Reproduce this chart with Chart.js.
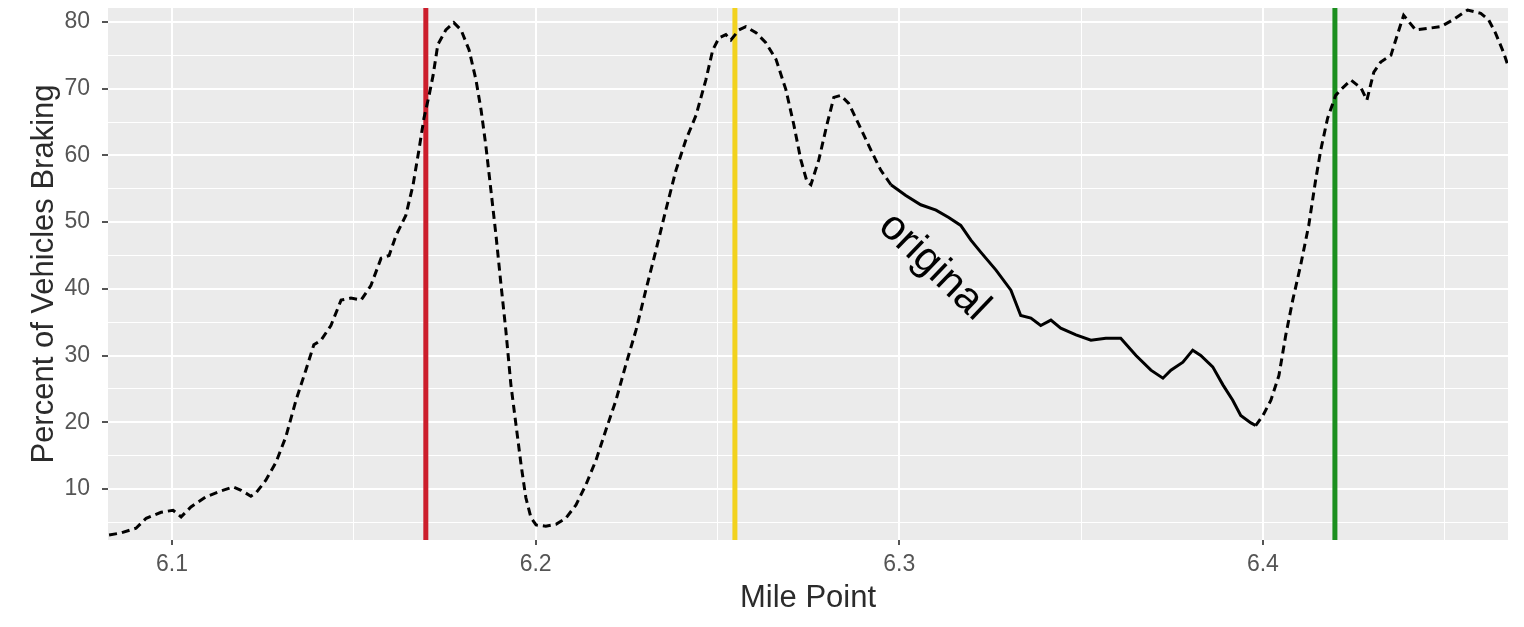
<!DOCTYPE html>
<html>
<head>
<meta charset="utf-8">
<script src="https://cdn.jsdelivr.net/npm/chart.js@4.4.0/dist/chart.umd.min.js"></script>
<style>
  html, body { margin: 0; padding: 0; background: #ffffff; }
  #wrap { width: 1524px; height: 627px; }
</style>
</head>
<body>
<div id="wrap"><canvas id="myChart" width="1524" height="627"></canvas></div>
<script>
// mile points and percent of vehicles braking
var milePoints = [
  6.0827, 6.0860, 6.0901, 6.0929, 6.0970, 6.1003, 6.1025, 6.1052, 6.1093, 6.1135,
  6.1168, 6.1190, 6.1217, 6.1231, 6.1258, 6.1286, 6.1313, 6.1341, 6.1368, 6.1390,
  6.1410, 6.1437, 6.1465, 6.1492, 6.1520, 6.1547, 6.1575, 6.1597, 6.1616, 6.1643,
  6.1663, 6.1679, 6.1693, 6.1707, 6.1718, 6.1731, 6.1753, 6.1775, 6.1795, 6.1817,
  6.1836, 6.1850, 6.1863, 6.1877, 6.1891, 6.1905, 6.1918, 6.1932, 6.1946, 6.1960,
  6.1973, 6.1987, 6.2001, 6.2028, 6.2056, 6.2083, 6.2111, 6.2138, 6.2166, 6.2193,
  6.2221, 6.2248, 6.2276, 6.2303, 6.2331, 6.2358, 6.2386, 6.2413, 6.2441, 6.2468,
  6.2487, 6.2504, 6.2523, 6.2537, 6.2559, 6.2578, 6.2606, 6.2633, 6.2661, 6.2688,
  6.2710, 6.2729, 6.2746, 6.2757, 6.2779, 6.2801, 6.2820, 6.2839, 6.2861, 6.2889,
  6.2922, 6.2949, 6.2977, 6.3018, 6.3059, 6.3101, 6.3136, 6.3169, 6.3197, 6.3224,
  6.3266, 6.3307, 6.3334, 6.3362, 6.3389, 6.3417, 6.3444, 6.3486, 6.3527, 6.3568,
  6.3609, 6.3651, 6.3692, 6.3725, 6.3747, 6.3780, 6.3807, 6.3829, 6.3862, 6.3890,
  6.3917, 6.3939, 6.3967, 6.3980, 6.4000, 6.4022, 6.4044, 6.4063, 6.4082, 6.4104,
  6.4126, 6.4145, 6.4159, 6.4178, 6.4200, 6.4217, 6.4242, 6.4270, 6.4286, 6.4305,
  6.4324, 6.4352, 6.4371, 6.4387, 6.4420, 6.4461, 6.4489, 6.4522, 6.4563, 6.4599,
  6.4621, 6.4640, 6.4662, 6.4676
];
var pctBraking = [
  3.1, 3.4, 4.1, 5.6, 6.5, 6.8, 5.8, 7.3, 8.8, 9.7,
  10.3, 9.8, 8.9, 9.4, 11.3, 14.0, 17.8, 23.3, 27.8, 31.6,
  32.3, 34.5, 38.3, 38.6, 38.3, 40.5, 44.6, 45.0, 48.0, 51.0,
  55.6, 60.8, 65.6, 69.0, 72.0, 76.6, 78.8, 79.9, 78.8, 75.8,
  71.3, 66.8, 61.5, 54.8, 48.0, 40.5, 33.8, 25.6, 19.6, 13.6,
  8.7, 5.7, 4.6, 4.4, 4.7, 5.6, 7.6, 10.6, 14.3, 18.8,
  23.3, 28.6, 33.8, 39.8, 45.8, 51.8, 57.8, 62.3, 66.0, 71.3,
  75.8, 77.6, 78.1, 77.3, 78.8, 79.3, 78.4, 76.9, 74.4, 69.9,
  64.6, 59.4, 56.1, 55.6, 59.4, 64.6, 68.7, 69.0, 67.8, 64.6,
  60.8, 57.8, 55.6, 54.0, 52.6, 51.8, 50.7, 49.5, 47.3, 45.5,
  42.8, 39.8, 36.0, 35.6, 34.5, 35.3, 34.1, 33.1, 32.3, 32.6,
  32.6, 30.0, 27.8, 26.6, 27.8, 29.0, 30.8, 30.0, 28.3, 25.6,
  23.3, 21.0, 19.9, 19.5, 21.0, 23.3, 27.0, 33.1, 38.3, 43.6,
  49.5, 56.3, 60.8, 65.6, 69.0, 70.0, 71.3, 70.1, 68.3, 72.5,
  74.0, 75.0, 78.3, 81.0, 78.8, 79.1, 79.3, 80.3, 81.8, 81.3,
  80.3, 78.3, 75.4, 73.1
];

// vertical marker lines
var markerMiles = [6.1698, 6.2548, 6.4198];
var markerColors = ['#cc1e2c', '#f2d21e', '#1b8f1f'];

// axis ticks
var xMajor = [6.1, 6.2, 6.3, 6.4];
var xMinor = [6.15, 6.25, 6.35, 6.45];
var xLabels = ['6.1', '6.2', '6.3', '6.4'];
var yMajor = [10, 20, 30, 40, 50, 60, 70, 80];
var yMinor = [5, 15, 25, 35, 45, 55, 65, 75];
var yLabels = ['10', '20', '30', '40', '50', '60', '70', '80'];

var xMin = 6.0824, xMax = 6.4674;
var yMin = 2.34, yMax = 82.1;

var lineData = milePoints.map(function (m, i) { return { x: m, y: pctBraking[i] }; });

var datasets = [{
  label: 'original',
  data: lineData,
  borderColor: '#000000',
  borderWidth: 3,
  borderDash: [8, 5],
  pointRadius: 0,
  tension: 0,
  segment: {
    // the noisy middle stretch reads as solid in the picture
    borderDash: function (c) {
      return (c.p0.parsed.x > 6.296 && c.p1.parsed.x < 6.399) ? [] : [8, 5];
    }
  }
}];
markerMiles.forEach(function (m, i) {
  datasets.push({
    label: 'marker' + i,
    data: [{ x: m, y: yMin }, { x: m, y: yMax }],
    borderColor: markerColors[i],
    borderWidth: 5,
    pointRadius: 0
  });
});

// grey panel behind the grid
var panelBg = {
  id: 'panelBg',
  beforeDraw: function (chart) {
    var a = chart.chartArea, c = chart.ctx;
    c.save();
    c.fillStyle = '#ebebeb';
    c.fillRect(a.left, a.top, a.right - a.left, a.bottom - a.top);
    c.restore();
  }
};

// rotated "original" label
var lineLabel = {
  id: 'lineLabel',
  afterDatasetsDraw: function (chart) {
    var c = chart.ctx;
    var px = chart.scales.x.getPixelForValue(6.3095);
    var py = chart.scales.y.getPixelForValue(43.3);
    c.save();
    c.translate(px, py);
    c.rotate(Math.PI / 4 - 0.02);
    c.font = '42px "Liberation Sans", Arial, sans-serif';
    c.fillStyle = '#000000';
    c.textAlign = 'center';
    c.textBaseline = 'middle';
    c.fillText('original', 0, 0);
    c.restore();
  }
};

function isMajor(list, v) {
  return list.some(function (t) { return Math.abs(t - v) < 1e-6; });
}

var ctx = document.getElementById('myChart').getContext('2d');
var myChart = new Chart(ctx, {
  type: 'line',
  data: { datasets: datasets },
  plugins: [panelBg, lineLabel],
  options: {
    responsive: false,
    animation: false,
    events: [],
    layout: { padding: { left: 0, right: 16, top: 8, bottom: 0 } },
    plugins: { legend: { display: false }, tooltip: { enabled: false } },
    scales: {
      x: {
        type: 'linear',
        min: xMin,
        max: xMax,
        afterFit: function (s) {
          s.height = 87;
          s.paddingLeft = 0;
          s.paddingRight = 0;
        },
        afterBuildTicks: function (s) {
          s.ticks = xMinor.concat(xMajor).sort().map(function (v) { return { value: v }; });
        },
        border: { display: false },
        grid: {
          color: '#ffffff',
          lineWidth: function (c) { return isMajor(xMajor, c.tick.value) ? 2 : 1; },
          tickColor: function (c) { return isMajor(xMajor, c.tick.value) ? '#555555' : 'rgba(0,0,0,0)'; },
          tickLength: 5,
          tickWidth: 2
        },
        ticks: {
          autoSkip: false,
          maxRotation: 0,
          padding: 6,
          color: '#555555',
          font: { family: '"Liberation Sans", Arial, sans-serif', size: 23 },
          callback: function (v) {
            var i = xMajor.findIndex(function (t) { return Math.abs(t - v) < 1e-6; });
            return i >= 0 ? xLabels[i] : '';
          }
        },
        title: {
          display: true,
          text: 'Mile Point',
          color: '#2b2b2b',
          font: { family: '"Liberation Sans", Arial, sans-serif', size: 31 },
          padding: { top: 0, bottom: 10 }
        }
      },
      y: {
        type: 'linear',
        min: yMin,
        max: yMax,
        afterFit: function (s) {
          s.width = 108;
          s.paddingTop = 0;
          s.paddingBottom = 0;
        },
        afterBuildTicks: function (s) {
          s.ticks = yMinor.concat(yMajor).sort(function (a, b) { return a - b; }).map(function (v) { return { value: v }; });
        },
        border: { display: false },
        grid: {
          color: '#ffffff',
          lineWidth: function (c) { return isMajor(yMajor, c.tick.value) ? 2 : 1; },
          tickColor: function (c) { return isMajor(yMajor, c.tick.value) ? '#555555' : 'rgba(0,0,0,0)'; },
          tickLength: 6,
          tickWidth: 2
        },
        ticks: {
          autoSkip: false,
          padding: 12,
          color: '#555555',
          font: { family: '"Liberation Sans", Arial, sans-serif', size: 23 },
          callback: function (v) {
            var i = yMajor.indexOf(v);
            return i >= 0 ? yLabels[i] : '';
          }
        },
        title: {
          display: true,
          text: 'Percent of Vehicles Braking',
          color: '#2b2b2b',
          font: { family: '"Liberation Sans", Arial, sans-serif', size: 31 },
          padding: { top: 26, bottom: 0 }
        }
      }
    }
  }
});
</script>
</body>
</html>
